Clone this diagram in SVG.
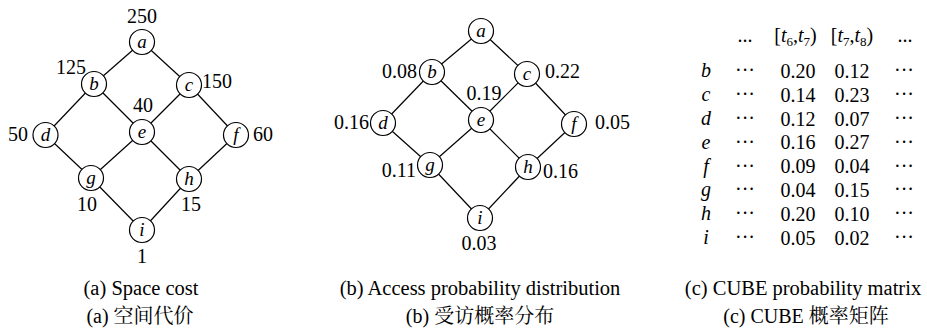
<svg xmlns="http://www.w3.org/2000/svg" width="927" height="329" viewBox="0 0 927 329" font-family="'Liberation Serif', Tinos, 'Times New Roman', 'DejaVu Serif', serif">
  <style>
    text { font-family: 'Liberation Serif', Tinos, 'Times New Roman', 'DejaVu Serif', serif; font-size: 20px; fill: #000; }
    .node circle { fill: #fff; stroke: #000; stroke-width: 1.2; }
    .node text { font-style: italic; font-size: 19px; text-anchor: middle; }
    .edges line { stroke: #000; stroke-width: 1.2; }
    .mid { text-anchor: middle; }
    .end { text-anchor: end; }
    .it { font-style: italic; }
    .cap { font-size: 20.5px; text-anchor: middle; }
    .cjk { font-family: 'Liberation Serif', 'Noto Serif CJK SC', 'Noto Sans CJK SC', serif; font-size: 20px; text-anchor: middle; }
  </style>

  <!-- (a) lattice with space cost -->
  <g id="lattice-a">
    <g class="edges" id="edges-a">
      <line x1="142" y1="42" x2="94" y2="84"/>
      <line x1="142" y1="42" x2="189" y2="85"/>
      <line x1="94" y1="84" x2="45.5" y2="135"/>
      <line x1="94" y1="84" x2="142" y2="132"/>
      <line x1="189" y1="85" x2="142" y2="132"/>
      <line x1="189" y1="85" x2="236" y2="135"/>
      <line x1="45.5" y1="135" x2="91" y2="178"/>
      <line x1="142" y1="132" x2="91" y2="178"/>
      <line x1="142" y1="132" x2="189" y2="179"/>
      <line x1="236" y1="135" x2="189" y2="179"/>
      <line x1="91" y1="178" x2="142" y2="230"/>
      <line x1="189" y1="179" x2="142" y2="230"/>
    </g>
    <g class="node" id="a-a"><circle cx="142" cy="42" r="12.5"/><text x="142" y="48">a</text></g>
    <g class="node" id="a-b"><circle cx="94" cy="84" r="12.5"/><text x="94" y="90">b</text></g>
    <g class="node" id="a-c"><circle cx="189" cy="85" r="12.5"/><text x="189" y="91">c</text></g>
    <g class="node" id="a-d"><circle cx="45.5" cy="135" r="12.5"/><text x="45.5" y="141">d</text></g>
    <g class="node" id="a-e"><circle cx="142" cy="132" r="12.5"/><text x="142" y="138">e</text></g>
    <g class="node" id="a-f"><circle cx="236" cy="135" r="12.5"/><text x="236" y="141">f</text></g>
    <g class="node" id="a-g"><circle cx="91" cy="178" r="12.5"/><text x="91" y="184">g</text></g>
    <g class="node" id="a-h"><circle cx="189" cy="179" r="12.5"/><text x="189" y="185">h</text></g>
    <g class="node" id="a-i"><circle cx="142" cy="230" r="12.5"/><text x="142" y="236">i</text></g>
    <g id="cost-labels">
      <text class="mid" x="142" y="23">250</text>
      <text class="end" x="86" y="74">125</text>
      <text x="202" y="88">150</text>
      <text class="mid" x="143" y="112">40</text>
      <text class="end" x="28" y="141">50</text>
      <text x="253" y="141">60</text>
      <text class="mid" x="87" y="211">10</text>
      <text x="181" y="211">15</text>
      <text class="mid" x="142" y="263">1</text>
    </g>
  </g>

  <!-- (b) lattice with access probabilities -->
  <g id="lattice-b">
    <g class="edges" id="edges-b">
      <line x1="481" y1="31" x2="432" y2="72"/>
      <line x1="481" y1="31" x2="527" y2="74"/>
      <line x1="432" y1="72" x2="383" y2="123"/>
      <line x1="432" y1="72" x2="481" y2="120"/>
      <line x1="527" y1="74" x2="481" y2="120"/>
      <line x1="527" y1="74" x2="574" y2="124"/>
      <line x1="383" y1="123" x2="430" y2="165"/>
      <line x1="481" y1="120" x2="430" y2="165"/>
      <line x1="481" y1="120" x2="528" y2="167"/>
      <line x1="574" y1="124" x2="528" y2="167"/>
      <line x1="430" y1="165" x2="480" y2="218"/>
      <line x1="528" y1="167" x2="480" y2="218"/>
    </g>
    <g class="node" id="b-a"><circle cx="481" cy="31" r="12.5"/><text x="481" y="37">a</text></g>
    <g class="node" id="b-b"><circle cx="432" cy="72" r="12.5"/><text x="432" y="78">b</text></g>
    <g class="node" id="b-c"><circle cx="527" cy="74" r="12.5"/><text x="527" y="80">c</text></g>
    <g class="node" id="b-d"><circle cx="383" cy="123" r="12.5"/><text x="383" y="129">d</text></g>
    <g class="node" id="b-e"><circle cx="481" cy="120" r="12.5"/><text x="481" y="126">e</text></g>
    <g class="node" id="b-f"><circle cx="574" cy="124" r="12.5"/><text x="574" y="130">f</text></g>
    <g class="node" id="b-g"><circle cx="430" cy="165" r="12.5"/><text x="430" y="171">g</text></g>
    <g class="node" id="b-h"><circle cx="528" cy="167" r="12.5"/><text x="528" y="173">h</text></g>
    <g class="node" id="b-i"><circle cx="480" cy="218" r="12.5"/><text x="480" y="224">i</text></g>
    <g id="prob-labels">
      <text class="end" x="417" y="78">0.08</text>
      <text x="545" y="78">0.22</text>
      <text class="mid" x="484" y="99.5">0.19</text>
      <text class="end" x="369" y="129">0.16</text>
      <text x="595" y="128.5">0.05</text>
      <text class="end" x="416" y="177">0.11</text>
      <text x="543" y="178">0.16</text>
      <text class="mid" x="479" y="249.5">0.03</text>
    </g>
  </g>

  <!-- (c) probability matrix -->
  <g id="matrix">
    <g id="matrix-header">
      <text class="mid" x="745" y="42">...</text>
      <text class="mid" x="795.5" y="42">[<tspan class="it">t</tspan><tspan font-size="13" dy="4">6</tspan><tspan dy="-4">,</tspan><tspan class="it">t</tspan><tspan font-size="13" dy="4">7</tspan><tspan dy="-4">)</tspan></text>
      <text class="mid" x="852" y="42">[<tspan class="it">t</tspan><tspan font-size="13" dy="4">7</tspan><tspan dy="-4">,</tspan><tspan class="it">t</tspan><tspan font-size="13" dy="4">8</tspan><tspan dy="-4">)</tspan></text>
      <text class="mid" x="905" y="42">...</text>
    </g>
    <g id="matrix-rows">
      <g id="row-b"><text class="mid it" x="706" y="77">b</text><text class="mid" x="745" y="77">···</text><text class="mid" x="798" y="78">0.20</text><text class="mid" x="852" y="78">0.12</text><text class="mid" x="904" y="77">···</text></g>
      <g id="row-c"><text class="mid it" x="706" y="101">c</text><text class="mid" x="745" y="101">···</text><text class="mid" x="798" y="101.8">0.14</text><text class="mid" x="852" y="101.8">0.23</text><text class="mid" x="904" y="101">···</text></g>
      <g id="row-d"><text class="mid it" x="706" y="125">d</text><text class="mid" x="745" y="125">···</text><text class="mid" x="798" y="125.6">0.12</text><text class="mid" x="852" y="125.6">0.07</text><text class="mid" x="904" y="125">···</text></g>
      <g id="row-e"><text class="mid it" x="706" y="149">e</text><text class="mid" x="745" y="149">···</text><text class="mid" x="798" y="149.4">0.16</text><text class="mid" x="852" y="149.4">0.27</text><text class="mid" x="904" y="149">···</text></g>
      <g id="row-f"><text class="mid it" x="706" y="173">f</text><text class="mid" x="745" y="173">···</text><text class="mid" x="798" y="173.2">0.09</text><text class="mid" x="852" y="173.2">0.04</text><text class="mid" x="904" y="173">···</text></g>
      <g id="row-g"><text class="mid it" x="706" y="196">g</text><text class="mid" x="745" y="196">···</text><text class="mid" x="798" y="197">0.04</text><text class="mid" x="852" y="197">0.15</text><text class="mid" x="904" y="196">···</text></g>
      <g id="row-h"><text class="mid it" x="706" y="220">h</text><text class="mid" x="745" y="220">···</text><text class="mid" x="798" y="220.8">0.20</text><text class="mid" x="852" y="220.8">0.10</text><text class="mid" x="904" y="220">···</text></g>
      <g id="row-i"><text class="mid it" x="706" y="244">i</text><text class="mid" x="745" y="244">···</text><text class="mid" x="798" y="244.6">0.05</text><text class="mid" x="852" y="244.6">0.02</text><text class="mid" x="904" y="244">···</text></g>
    </g>
  </g>

  <!-- captions -->
  <g id="captions">
    <text class="cap" x="141" y="295">(a) Space cost</text>
    <text class="cap" x="480" y="295">(b) Access probability distribution</text>
    <text class="cap" x="803" y="295">(c) CUBE probability matrix</text>
    <text class="cjk" x="140" y="323">(a)  空间代价</text>
    <text class="cjk" x="480" y="323">(b)  受访概率分布</text>
    <text class="cjk" x="806" y="323">(c) CUBE 概率矩阵</text>
  </g>
</svg>
